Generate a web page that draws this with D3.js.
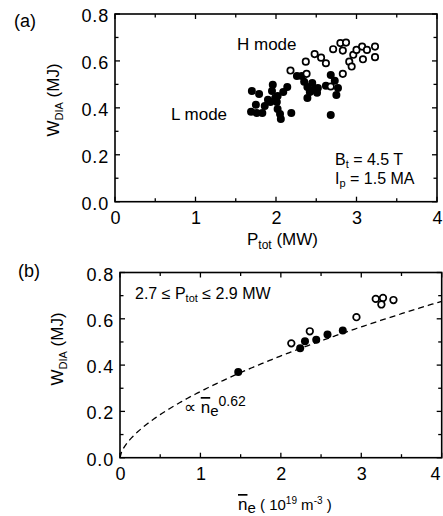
<!DOCTYPE html>
<html>
<head>
<meta charset="utf-8">
<script src="https://cdn.jsdelivr.net/npm/d3@7"></script>
<style>
  html, body { margin: 0; padding: 0; background: #fff; }
  svg text { font-family: "Liberation Sans", Arial, Helvetica, sans-serif; fill: #000; }
</style>
</head>
<body>
<svg id="chart" width="443" height="516"></svg>
<script>
// ---------- Data ----------
// Panel (a): stored energy vs total heating power
const ptotL = [1.70,1.79,1.96,1.95,2.14,2.09,2.02,2.01,1.93,1.86,1.75,1.69,1.76,1.83,2.02,2.05,2.06,2.19,1.90,1.99,
               2.26,2.32,2.35,2.39,2.45,2.47,2.51,2.42,2.39,2.52,2.68,2.73,2.77,2.75,2.62,2.68];
const wL    = [0.472,0.459,0.498,0.472,0.489,0.468,0.451,0.425,0.425,0.408,0.413,0.383,0.378,0.378,0.395,0.374,0.353,0.378,0.434,0.442,
               0.536,0.536,0.511,0.489,0.506,0.477,0.464,0.468,0.442,0.485,0.540,0.515,0.485,0.455,0.494,0.370];
const ptotH = [2.18,2.37,2.48,2.56,2.62,2.71,2.80,2.87,2.83,2.96,3.00,3.07,3.13,3.23,3.23,2.91,2.94,3.08,2.38,2.83,2.68];
const wH    = [0.559,0.597,0.629,0.614,0.590,0.650,0.676,0.678,0.644,0.626,0.647,0.661,0.647,0.661,0.616,0.597,0.576,0.607,0.545,0.545,0.491];

// Panel (b): stored energy vs line-averaged density (2.7 <= Ptot <= 2.9 MW)
const neFilled = [1.47,2.24,2.30,2.44,2.58,2.77];
const wFilled  = [0.370,0.473,0.503,0.509,0.532,0.549];
const neOpen   = [2.13,2.36,2.94,3.18,3.27,3.25,3.40];
const wOpen    = [0.494,0.546,0.607,0.686,0.690,0.662,0.681];

// Power-law fit W = c * ne^0.62
const fitCoef = 0.286;
const fitExp  = 0.62;

// Tick labels
const xTickValues = [0,1,2,3,4];
const xTickLabels = ["0","1","2","3","4"];
const yTickValues = [0,0.2,0.4,0.6,0.8];
const yTickLabels = ["0.0","0.2","0.4","0.6","0.8"];

// ---------- Drawing ----------
const svg = d3.select("#chart");
const FS = 18;

function drawFrame(g, x, y) {
  const [x0, x1] = x.range();
  const [y0, y1] = y.range();
  const xMinor = d3.range(0, 4.001, 0.5);
  const yMinor = d3.range(0, 0.8001, 0.1);
  const majX = v => Math.abs(v - Math.round(v)) < 1e-6;
  const majY = v => Math.abs(v*5 - Math.round(v*5)) < 1e-6;
  const tick = (x1_, y1_, x2_, y2_) => g.append("line")
      .attr("x1", x1_).attr("y1", y1_).attr("x2", x2_).attr("y2", y2_)
      .attr("stroke", "#000").attr("stroke-width", 1.3);
  xMinor.forEach(v => {
    const L = majX(v) ? 5 : 3.5;
    tick(x(v), y0, x(v), y0 - L);
    tick(x(v), y1, x(v), y1 + L);
  });
  yMinor.forEach(v => {
    const L = majY(v) ? 5 : 3.5;
    tick(x0, y(v), x0 + L, y(v));
    tick(x1, y(v), x1 - L, y(v));
  });
  // labeled axes
  g.append("g").attr("transform", `translate(0,${y0})`)
    .call(d3.axisBottom(x).tickValues(xTickValues).tickSize(0).tickPadding(10)
      .tickFormat((d,i) => xTickLabels[i]))
    .call(s => s.select(".domain").remove())
    .selectAll("text").style("font-size", FS + "px").attr("fill", "#000")
    .attr("text-anchor", d => (x(d) > 439 ? "end" : "middle"))
    .attr("dx", d => (x(d) > 439 ? -(x(d) - 440) : 0));
  g.append("g").attr("transform", `translate(${x0},0)`)
    .call(d3.axisLeft(y).tickValues(yTickValues).tickSize(0).tickPadding(6)
      .tickFormat((d,i) => yTickLabels[i]))
    .call(s => s.select(".domain").remove())
    .selectAll("text").style("font-size", FS + "px").style("letter-spacing", "0.8px")
    .attr("fill", "#000").attr("dy", "0.42em");
  g.append("rect").attr("x", x0).attr("y", y1).attr("width", x1 - x0).attr("height", y0 - y1)
    .attr("fill", "none").attr("stroke", "#000").attr("stroke-width", 1.6);
}

function yTitle(g, cx, cy) {
  const t = g.append("text").attr("transform", `translate(${cx},${cy}) rotate(-90)`)
    .attr("text-anchor", "middle").style("font-size", "17px");
  t.append("tspan").text("W");
  t.append("tspan").attr("dy", 4).style("font-size", "11px").text("DIA");
  t.append("tspan").attr("dy", -4).text(" (MJ)");
}

// ----- Panel (a) -----
const xa = d3.scaleLinear().domain([0,4]).range([115, 437]);
const ya = d3.scaleLinear().domain([0,0.8]).range([201.7, 14]);
const ga = svg.append("g");
drawFrame(ga, xa, ya);

ga.selectAll("circle.L").data(ptotL.map((p,i) => [p, wL[i]])).enter().append("circle")
  .attr("cx", d => xa(d[0])).attr("cy", d => ya(d[1])).attr("r", 4).attr("fill", "#000");
ga.selectAll("circle.H").data(ptotH.map((p,i) => [p, wH[i]])).enter().append("circle")
  .attr("cx", d => xa(d[0])).attr("cy", d => ya(d[1])).attr("r", 3.2)
  .attr("fill", "#fff").attr("stroke", "#000").attr("stroke-width", 1.7);

ga.append("text").attr("x", 14).attr("y", 27).style("font-size", "18px").text("(a)");
ga.append("text").attr("x", 237).attr("y", 50).style("font-size", "17px").text("H mode");
ga.append("text").attr("x", 171).attr("y", 120).style("font-size", "17px").text("L mode");
{
  const t = ga.append("text").attr("x", 335).attr("y", 165).style("font-size", "16px");
  t.append("tspan").text("B");
  t.append("tspan").attr("dy", 3).style("font-size", "11px").text("t");
  t.append("tspan").attr("dy", -3).text(" = 4.5 T");
  const t2 = ga.append("text").attr("x", 335).attr("y", 184).style("font-size", "16px");
  t2.append("tspan").text("I");
  t2.append("tspan").attr("dy", 3).style("font-size", "11px").text("p");
  t2.append("tspan").attr("dy", -3).text(" = 1.5 MA");
}
{
  const t = ga.append("text").attr("x", 247).attr("y", 245).style("font-size", "17px");
  t.append("tspan").text("P");
  t.append("tspan").attr("dy", 4).style("font-size", "12px").text("tot");
  t.append("tspan").attr("dy", -4).text(" (MW)");
}
yTitle(ga, 59, 100);

// ----- Panel (b) -----
const xb = d3.scaleLinear().domain([0,4]).range([120, 441.7]);
const yb = d3.scaleLinear().domain([0,0.8]).range([457.7, 272.5]);
const gb = svg.append("g");
drawFrame(gb, xb, yb);

const fitX = d3.range(0, 4.0001, 0.02);
gb.append("path")
  .datum(fitX.map(v => [v, fitCoef * Math.pow(v, fitExp)]))
  .attr("d", d3.line().x(d => xb(d[0])).y(d => yb(d[1])))
  .attr("fill", "none").attr("stroke", "#000").attr("stroke-width", 1.3)
  .attr("stroke-dasharray", "6,4");

gb.selectAll("circle.F").data(neFilled.map((p,i) => [p, wFilled[i]])).enter().append("circle")
  .attr("cx", d => xb(d[0])).attr("cy", d => yb(d[1])).attr("r", 4).attr("fill", "#000");
gb.selectAll("circle.O").data(neOpen.map((p,i) => [p, wOpen[i]])).enter().append("circle")
  .attr("cx", d => xb(d[0])).attr("cy", d => yb(d[1])).attr("r", 3.3)
  .attr("fill", "#fff").attr("stroke", "#000").attr("stroke-width", 1.7);

gb.append("text").attr("x", 18).attr("y", 277).style("font-size", "18px").text("(b)");
{
  const t = gb.append("text").attr("x", 135).attr("y", 299).style("font-size", "16px");
  t.append("tspan").text("2.7 \u2264 P");
  t.append("tspan").attr("dy", 3).style("font-size", "11px").text("tot");
  t.append("tspan").attr("dy", -3).text(" \u2264 2.9 MW");
}
{
  const t = gb.append("text").attr("x", 184).attr("y", 413).style("font-size", "17px");
  t.append("tspan").text("\u221D ");
  t.append("tspan").style("text-decoration", "overline").text("n");
  t.append("tspan").attr("dy", 3).style("font-size", "15px").text("e");
  t.append("tspan").attr("dy", -10).style("font-size", "14px").text("0.62");
}
{
  const t = gb.append("text").attr("x", 238).attr("y", 510).style("font-size", "17px");
  t.append("tspan").style("text-decoration", "overline").text("n");
  t.append("tspan").attr("dy", 3).style("font-size", "15px").text("e");
  t.append("tspan").attr("dy", -3).style("font-size", "15px").text(" ( 10");
  t.append("tspan").attr("dy", -6).style("font-size", "10px").text("19");
  t.append("tspan").attr("dy", 6).style("font-size", "15px").text(" m");
  t.append("tspan").attr("dy", -6).style("font-size", "10px").text("-3");
  t.append("tspan").attr("dy", 6).style("font-size", "15px").text(" )");
}
yTitle(gb, 63, 349);
</script>
</body>
</html>
